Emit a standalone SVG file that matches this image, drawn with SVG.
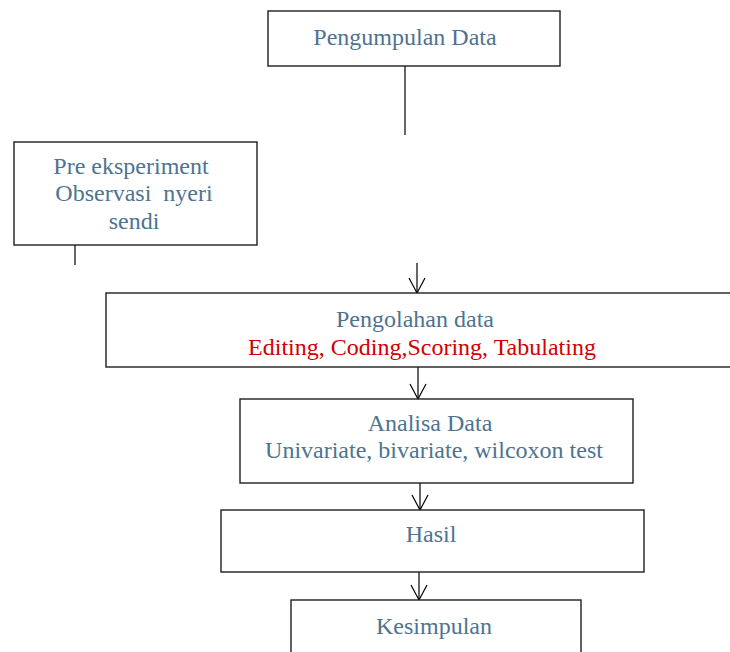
<svg xmlns="http://www.w3.org/2000/svg" width="730" height="652" viewBox="0 0 730 652">
<style>
.box{fill:#fff;stroke:#1e1e1e;stroke-width:1.4}
.t{font-family:"Liberation Serif","Times New Roman",serif;font-size:24px;fill:#4e7390;text-anchor:middle}
.r{fill:#d10000}
.c{stroke:#000;stroke-width:1.2;fill:none}
</style>
<defs>
<marker id="ah" viewBox="-17 -10 19 20" refX="0" refY="0" markerWidth="19" markerHeight="20" markerUnits="userSpaceOnUse" orient="auto">
<path d="M-15,-8 L0,0 L-15,8" fill="none" stroke="#000" stroke-width="1.2"/>
</marker>
</defs>
<rect width="730" height="652" fill="#fff"/>
<g id="connectors">
<line class="c" x1="405" y1="66" x2="405" y2="135"/>
<line class="c" x1="75" y1="245" x2="75" y2="265"/>
<line class="c" x1="417" y1="263" x2="417" y2="293" marker-end="url(#ah)"/>
<line class="c" x1="418" y1="360" x2="418" y2="399" marker-end="url(#ah)"/>
<line class="c" x1="420" y1="483" x2="420" y2="510" marker-end="url(#ah)"/>
<line class="c" x1="419" y1="572" x2="419" y2="600" marker-end="url(#ah)"/>
</g>
<g id="pengumpulan">
<rect class="box" x="268" y="11" width="292" height="55"/>
<text class="t" x="405" y="45">Pengumpulan Data</text>
</g>
<g id="pre">
<rect class="box" x="14" y="142" width="243" height="103"/>
<text class="t" x="131" y="174">Pre eksperiment</text>
<text class="t" x="134" y="201" xml:space="preserve">Observasi  nyeri</text>
<text class="t" x="134" y="229">sendi</text>
</g>
<g id="pengolahan">
<rect class="box" x="106" y="293" width="630" height="74"/>
<text class="t" x="415" y="327">Pengolahan data</text>
<text class="t r" x="422" y="355">Editing, Coding,Scoring, Tabulating</text>
</g>
<g id="analisa">
<rect class="box" x="240" y="399" width="393" height="84"/>
<text class="t" x="430" y="431">Analisa Data</text>
<text class="t" x="434" y="458">Univariate, bivariate, wilcoxon test</text>
</g>
<g id="hasil">
<rect class="box" x="221" y="510" width="423" height="62"/>
<text class="t" x="431" y="542">Hasil</text>
</g>
<g id="kesimpulan">
<rect class="box" x="291" y="600" width="290" height="60"/>
<text class="t" x="434" y="634">Kesimpulan</text>
</g>
</svg>
